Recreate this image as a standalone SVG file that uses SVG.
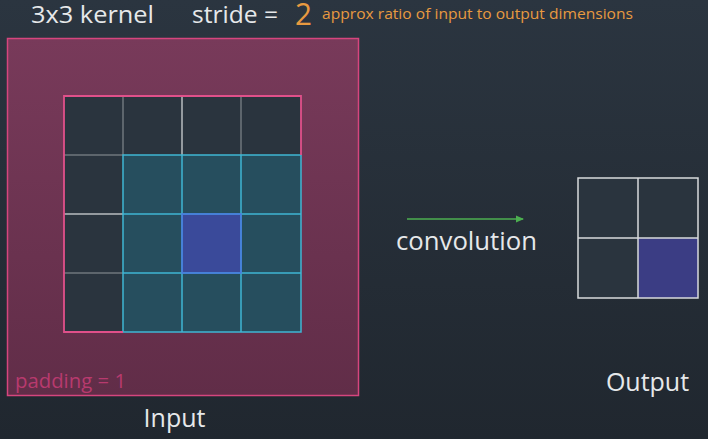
<svg xmlns="http://www.w3.org/2000/svg" width="708" height="439" viewBox="0 0 708 439">
<defs>
<linearGradient id="bg" x1="0" y1="0" x2="0" y2="1">
<stop offset="0" stop-color="#2b3540"/>
<stop offset="1" stop-color="#20272f"/>
</linearGradient>
<linearGradient id="pad" x1="0" y1="0" x2="0" y2="1">
<stop offset="0" stop-color="#783a5a"/>
<stop offset="1" stop-color="#612d48"/>
</linearGradient>
<marker id="ah" markerWidth="8" markerHeight="8" refX="7" refY="4" orient="auto" markerUnits="userSpaceOnUse">
<path d="M0,0.5 L8,4 L0,7.5 Z" fill="#4caf50"/>
</marker>
<style>
.t{font-family:"Open Sans","DejaVu Sans",sans-serif;fill:#e6e8ea}
.h{font-family:"Open Sans","DejaVu Sans",sans-serif}
.dk{fill:#2a343e}
.gl{stroke:#6f767d;stroke-width:1.5}
.cy{fill:#264e5e}
.cyl{stroke:#3fb6d4;stroke-width:1.5;fill:none}
.wl{stroke:#d8dadc;stroke-width:1.5;fill:none}
</style>
</defs>
<rect width="708" height="439" fill="url(#bg)"/>

<g id="header">
<text class="h" x="31" y="23" font-size="24" fill="#e6e8ea" textLength="123" lengthAdjust="spacingAndGlyphs">3x3 kernel</text>
<text class="h" x="192" y="23" font-size="24" fill="#e6e8ea" textLength="86" lengthAdjust="spacingAndGlyphs">stride =</text>
<text class="h" x="295" y="25" font-size="31" fill="#e89a40" textLength="17" lengthAdjust="spacingAndGlyphs">2</text>
<text class="h" x="322" y="19" font-size="14" fill="#e89a40" textLength="311" lengthAdjust="spacingAndGlyphs">approx ratio of input to output dimensions</text>
</g>

<g id="input">
<rect x="7.5" y="38.5" width="351" height="357" fill="url(#pad)" stroke="#d6457e" stroke-width="1.5"/>
<rect x="64" y="96" width="237" height="236" class="dk"/>
<rect x="123" y="155" width="178" height="177" class="cy"/>
<rect x="182" y="214" width="59" height="59" fill="#3a4a9a"/>
<g class="gl">
<line x1="123" y1="96" x2="123" y2="155"/>
<line x1="241" y1="96" x2="241" y2="155"/>
<line x1="64" y1="155" x2="123" y2="155"/>
<line x1="64" y1="273" x2="123" y2="273"/>
</g>
<line x1="182" y1="96" x2="182" y2="155" stroke="#b9bcc0" stroke-width="1.5"/>
<line x1="64" y1="214" x2="123" y2="214" stroke="#b9bcc0" stroke-width="1.5"/>
<g class="cyl">
<rect x="123" y="155" width="178" height="177"/>
<line x1="182" y1="155" x2="182" y2="332"/>
<line x1="241" y1="155" x2="241" y2="332"/>
<line x1="123" y1="214" x2="301" y2="214"/>
<line x1="123" y1="273" x2="301" y2="273"/>
</g>
<rect x="182" y="214" width="59" height="59" fill="none" stroke="#4a78e0" stroke-width="1.5"/>
<path d="M301,155 L301,96 L64,96 L64,332 L123,332" fill="none" stroke="#e0508a" stroke-width="1.8"/>
<text class="h" x="15" y="388" font-size="20" fill="#b83a6e" textLength="111" lengthAdjust="spacingAndGlyphs">padding = 1</text>
<text class="t" x="174.5" y="427" font-size="25" text-anchor="middle">Input</text>
</g>

<g id="connectors">
<line x1="407" y1="219" x2="523" y2="219" stroke="#4caf50" stroke-width="1.5" marker-end="url(#ah)"/>
<text class="t" x="396" y="250" font-size="25" textLength="141" lengthAdjust="spacingAndGlyphs">convolution</text>
</g>

<g id="output">
<rect x="578" y="178" width="120" height="120" fill="#2a343e"/>
<rect x="638" y="238" width="60" height="60" fill="#3b3d84"/>
<rect x="578" y="178" width="120" height="120" class="wl"/>
<line x1="638" y1="178" x2="638" y2="298" class="wl"/>
<line x1="578" y1="238" x2="698" y2="238" class="wl"/>
<text class="t" x="647.5" y="391" font-size="25" text-anchor="middle">Output</text>
</g>
</svg>
